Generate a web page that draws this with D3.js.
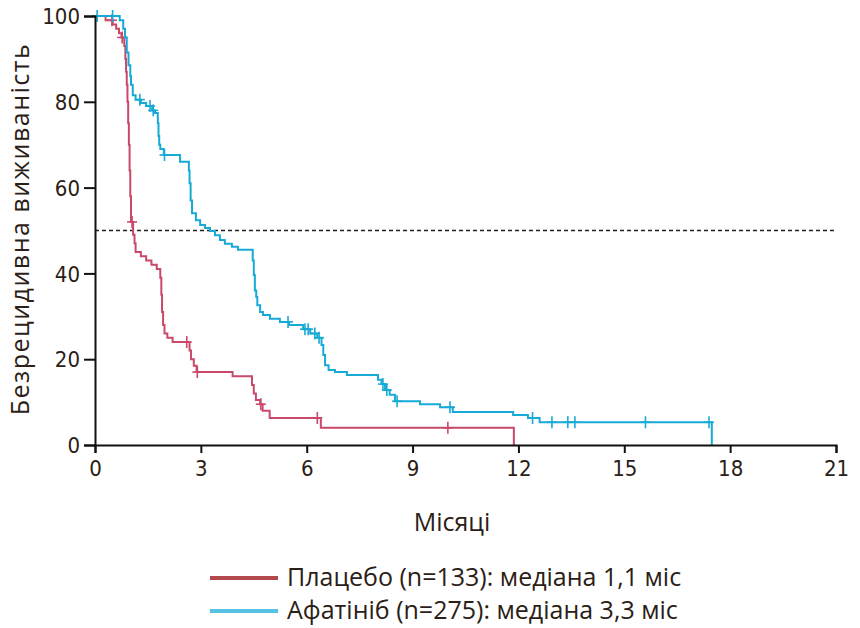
<!DOCTYPE html>
<html><head><meta charset="utf-8">
<script src="https://cdn.jsdelivr.net/npm/d3@7"></script>
<style>body{margin:0;background:#fff}svg{display:block}</style>
</head><body>
<svg id="c" width="860" height="628"></svg>
<script>
const xTicks = [0,3,6,9,12,15,18,21];
const yTicks = [0,20,40,60,80,100];
const seriesNames = ["Плацебо (n=133): медіана 1,1 міс", "Афатініб (n=275): медіана 3,3 міс"];
const xTitle = "Місяці";
const yTitle = "Безрецидивна виживаність";
const medianLevel = 50;

// step curves: [month, survival % after step]
const placeboCurve = [[0,100],[0.3,99],[0.5,98],[0.6,97],[0.68,96],[0.75,95],[0.83,93],[0.86,90],[0.88,87],[0.9,84],[0.92,80],[0.94,75],[0.96,70],[0.98,64],[1.0,58],[1.02,52],[1.08,49],[1.12,47],[1.15,45],[1.3,44],[1.45,43],[1.6,42],[1.75,41],[1.85,39],[1.88,35],[1.9,31],[1.93,28],[1.97,26],[2.05,25],[2.2,24],[2.68,22],[2.72,20],[2.8,18.5],[2.88,17],[3.9,16],[4.45,14],[4.5,12],[4.56,10.5],[4.68,9.5],[4.75,8],[4.95,6.3],[6.4,4],[11.87,0]];
const placeboCensor = [0.48,0.77,1.05,2.6,2.9,4.7,6.3,10.0];

const afatinibCurve = [[0,100],[0.7,99],[0.8,97],[0.85,95],[0.9,91.5],[0.95,88.5],[1.0,86],[1.02,84],[1.07,81.5],[1.15,80.5],[1.3,79.7],[1.45,79],[1.62,78],[1.7,77.4],[1.78,75],[1.8,72],[1.82,70],[1.85,69],[1.95,67.6],[2.41,66],[2.66,64],[2.68,61],[2.71,57],[2.75,54],[2.86,52.4],[2.98,51.3],[3.12,50.6],[3.26,49.9],[3.4,48.9],[3.54,47.8],[3.68,46.9],[3.88,46.2],[4.05,45.5],[4.47,43],[4.5,39.6],[4.53,36],[4.57,34.5],[4.6,32.6],[4.68,31],[4.76,30.3],[4.96,29.4],[5.24,28.7],[5.5,28],[5.9,27],[6.1,26],[6.3,25],[6.42,23.3],[6.47,21],[6.52,18.6],[6.62,17.5],[6.8,17],[7.14,16.3],[8.02,15.2],[8.12,14.2],[8.22,12.8],[8.35,11.7],[8.5,10.2],[9.21,9.5],[9.78,8.8],[10.14,7.7],[11.85,7],[12.27,6.3],[12.6,5.3],[17.48,0]];
const afatinibCensor = [0.06,0.5,1.27,1.56,1.65,1.97,5.47,5.95,6.04,6.23,6.35,8.16,8.27,8.56,10.06,12.4,12.95,13.4,13.6,15.6,17.4];

const curveColors = ["#c9496a","#17aad6"];
const legendColors = ["#b3484f","#55c2e2"];
const textColor = "#2b2016";

const svg = d3.select("#c");
const x = d3.scaleLinear().domain([0,21]).range([95,836]);
const y = d3.scaleLinear().domain([0,100]).range([445,16]);

// dashed median line
svg.append("line").attr("x1",x(0)).attr("x2",x(21)).attr("y1",y(medianLevel)).attr("y2",y(medianLevel))
  .attr("stroke","#222").attr("stroke-width",1.6).attr("stroke-dasharray","4,3");

function valueAt(curve,t){let v=curve[0][1];for(const p of curve){if(p[0]<=t)v=p[1];else break;}return v;}

const line = d3.line().x(d=>x(d[0])).y(d=>y(d[1])).curve(d3.curveStepAfter);
[[placeboCurve,placeboCensor],[afatinibCurve,afatinibCensor]].forEach(([curve,cens],i)=>{
  svg.append("path").datum(curve).attr("d",line).attr("fill","none")
    .attr("stroke",curveColors[i]).attr("stroke-width",2);
  const g = svg.append("g").attr("stroke",curveColors[i]).attr("stroke-width",1.6);
  cens.forEach(t=>{
    const cx=x(t), cy=y(valueAt(curve,t));
    g.append("line").attr("x1",cx).attr("x2",cx).attr("y1",cy-6).attr("y2",cy+6);
    g.append("line").attr("x1",cx-5).attr("x2",cx+5).attr("y1",cy).attr("y2",cy);
  });
});

// axes
const fontTick = "'DejaVu Sans Condensed','Liberation Sans Narrow',sans-serif";
const xAxis = svg.append("g").attr("transform","translate(0,445)")
  .call(d3.axisBottom(x).tickValues(xTicks).tickSize(8).tickPadding(7).tickFormat(d3.format("d")));
const yAxis = svg.append("g").attr("transform","translate(95,0)")
  .call(d3.axisLeft(y).tickValues(yTicks).tickSize(11).tickPadding(4).tickFormat(d3.format("d")));
[xAxis,yAxis].forEach(a=>{
  a.select(".domain").attr("stroke","#111").attr("stroke-width",2);
  a.selectAll(".tick line").attr("stroke","#111").attr("stroke-width",2);
  a.selectAll(".tick text").attr("fill",textColor).attr("font-family",fontTick).attr("font-size",22);
});
yAxis.selectAll(".tick text").attr("dy","0.35em");

svg.append("text").attr("x",452).attr("y",531).attr("text-anchor","middle")
  .attr("font-family","'Open Sans','Noto Sans',sans-serif").attr("font-size",25).attr("fill",textColor).text(xTitle);
svg.append("text").attr("transform","translate(29,229) rotate(-90)").attr("text-anchor","middle")
  .attr("font-family","'Open Sans','Noto Sans',sans-serif").attr("font-size",25).attr("letter-spacing",1.5)
  .attr("fill",textColor).text(yTitle);

// legend
seriesNames.forEach((name,i)=>{
  const ly = 578 + i*33;
  svg.append("line").attr("x1",210).attr("x2",278).attr("y1",ly).attr("y2",ly)
    .attr("stroke",legendColors[i]).attr("stroke-width",4);
  svg.append("text").attr("x",287).attr("y",ly+8).attr("font-family","'Open Sans','Noto Sans',sans-serif")
    .attr("font-size",25).attr("fill",textColor).text(name);
});
</script>
</body></html>
